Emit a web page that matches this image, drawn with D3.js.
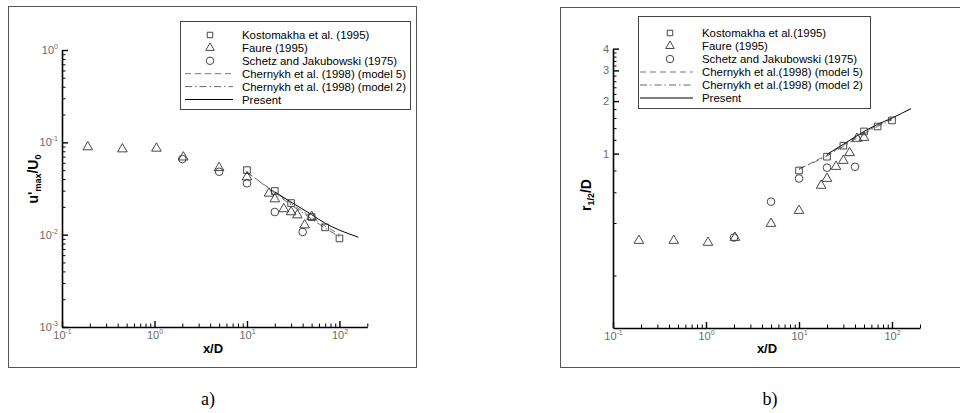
<!DOCTYPE html>
<html>
<head>
<meta charset="utf-8">
<script src="https://cdn.jsdelivr.net/npm/d3@7/dist/d3.min.js"></script>
<style>
  html, body { margin: 0; padding: 0; background: #fff; }
  svg { display: block; }
  text { font-family: "Liberation Sans", Arial, sans-serif; }
</style>
</head>
<body>
<svg id="fig" width="960" height="413"></svg>
<script>
// ---------- panel a) : maximum fluctuation u'max/U0 vs x/D ----------
const aKostoX = [10, 20, 30, 50, 70, 100];
const aKostoY = [0.050, 0.0297, 0.022, 0.0155, 0.0120, 0.0091];
const aFaureX = [0.19, 0.45, 1.05, 2.05, 5, 10, 17.3, 20, 25, 30, 35, 42, 50];
const aFaureY = [0.089, 0.0845, 0.086, 0.069, 0.053, 0.042, 0.028, 0.0243, 0.019, 0.0176, 0.0163, 0.0127, 0.0157];
const aSchetzX = [2, 5, 10, 20, 40];
const aSchetzY = [0.066, 0.048, 0.036, 0.0176, 0.0107];
const aModel5X = [10, 15, 20, 30, 50, 70, 100];
const aModel5Y = [0.047, 0.0355, 0.0290, 0.0218, 0.0154, 0.0124, 0.0101];
const aModel2X = [10, 15, 20, 30, 50, 70, 100];
const aModel2Y = [0.048, 0.0350, 0.0282, 0.0210, 0.0148, 0.0118, 0.0095];
const aPresentX = [20, 30, 50, 70, 100, 160];
const aPresentY = [0.0290, 0.0225, 0.0165, 0.0133, 0.0112, 0.0094];
const aLegend = ["Kostomakha et al. (1995)", "Faure (1995)", "Schetz and Jakubowski (1975)",
                 "Chernykh et al. (1998) (model 5)", "Chernykh et al. (1998) (model 2)", "Present"];

// ---------- panel b) : jet half-width r1/2/D vs x/D ----------
const bKostoX = [10, 20, 30, 50, 70, 100];
const bKostoY = [0.80, 0.96, 1.11, 1.34, 1.43, 1.55];
const bFaureX = [0.19, 0.45, 1.05, 2.05, 5, 10, 17.3, 20, 25, 30, 35, 42, 50];
const bFaureY = [0.317, 0.317, 0.309, 0.330, 0.397, 0.471, 0.656, 0.719, 0.842, 0.912, 1.01, 1.22, 1.235];
const bSchetzX = [2, 5, 10, 20, 40];
const bSchetzY = [0.33, 0.53, 0.72, 0.83, 0.84];
const bModel5X = [10, 15, 20, 30, 50, 70, 100];
const bModel5Y = [0.81, 0.91, 0.98, 1.12, 1.32, 1.45, 1.58];
const bModel2X = [10, 15, 20, 30, 50, 70, 100];
const bModel2Y = [0.82, 0.90, 0.97, 1.10, 1.30, 1.43, 1.56];
const bPresentX = [20, 30, 50, 70, 100, 160];
const bPresentY = [0.99, 1.13, 1.34, 1.47, 1.60, 1.81];
const bLegend = ["Kostomakha et al.(1995)", "Faure (1995)", "Schetz and Jakubowski (1975)",
                 "Chernykh et al.(1998) (model 5)", "Chernykh et al.(1998) (model 2)", "Present"];

// ---------- axis ticks ----------
const xMajor = [0.1, 1, 10, 100];
const aYMajor = [0.001, 0.01, 0.1, 1];
const bYMajor = [1, 2, 3, 4];
const bYMinor = [0.2, 0.4, 0.6, 0.8, 1.2, 1.4, 1.6, 1.8, 2.2, 2.4, 2.6, 2.8, 3.2, 3.4, 3.6, 3.8];

const svg = d3.select("#fig");
const zip = (xs, ys) => xs.map((x, i) => [x, ys[i]]);

function decadeMinors(lo, hi) {
  const out = [];
  for (let e = Math.log10(lo); e < Math.log10(hi); e++) {
    for (let k = 2; k <= 9; k++) out.push(k * Math.pow(10, e));
  }
  return out;
}

function powLabel(sel) {
  sel.each(function(d) {
    const t = d3.select(this);
    t.text("10");
    t.append("tspan").attr("dy", -5).attr("font-size", 7).text(Math.round(Math.log10(d)));
  });
}

const symStyle = { stroke: "#333", fill: "none", "stroke-width": 0.9 };
const symbols = [
  d3.symbol().type(d3.symbolSquare).size(44),
  d3.symbol().type(d3.symbolTriangle).size(40),
  d3.symbol().type(d3.symbolCircle).size(46)
];
const lineStyles = [
  { stroke: "#777", dash: "6,4" },
  { stroke: "#666", dash: "7,3,1.5,3" },
  { stroke: "#000", dash: null }
];

function drawPanel(p) {
  const g = svg.append("g");
  // frame around panel
  g.append("rect").attr("x", p.frame[0]).attr("y", p.frame[1])
    .attr("width", p.frame[2]).attr("height", p.frame[3])
    .attr("fill", "none").attr("stroke", "#555").attr("stroke-width", 1);

  const x = d3.scaleLog().domain([0.1, 200]).range(p.xRange);
  const y = d3.scaleLog().domain(p.yDomain).range(p.yRange);

  // x axis: minor then major ticks, pointing inward
  const xMinor = decadeMinors(0.1, 100).concat([200]);
  g.append("g").attr("transform", `translate(0,${p.yRange[0]})`)
    .call(d3.axisBottom(x).tickValues(xMinor).tickSize(-3.5).tickSizeOuter(0).tickFormat(""))
    .call(s => s.select(".domain").attr("stroke-width", 1.6).attr("stroke", "#000"));
  const xa = g.append("g").attr("transform", `translate(0,${p.yRange[0]})`)
    .call(d3.axisBottom(x).tickValues(xMajor).tickSize(-6).tickSizeOuter(0).tickPadding(4))
    .call(s => s.select(".domain").remove());
  xa.selectAll(".tick line").attr("stroke-width", 1.4);
  xa.selectAll(".tick text").attr("fill", "#6a6a6a").attr("font-size", 11)
    .attr("font-family", "Liberation Sans, Arial, sans-serif").call(powLabel);

  // y axis
  g.append("g").attr("transform", `translate(${p.xRange[0]},0)`)
    .call(d3.axisLeft(y).tickValues(p.yMinor).tickSize(-3.5).tickSizeOuter(0).tickFormat(""))
    .call(s => s.select(".domain").attr("stroke-width", 1.6).attr("stroke", "#000"));
  const ya = g.append("g").attr("transform", `translate(${p.xRange[0]},0)`)
    .call(d3.axisLeft(y).tickValues(p.yMajor).tickSize(-6).tickSizeOuter(0).tickPadding(4))
    .call(s => s.select(".domain").remove());
  ya.selectAll(".tick line").attr("stroke-width", 1.4);
  ya.selectAll(".tick text").attr("fill", "#6a6a6a").attr("font-size", 11)
    .attr("font-family", "Liberation Sans, Arial, sans-serif");
  if (p.yPow) ya.selectAll(".tick text").call(powLabel);
  else ya.selectAll(".tick text").text(d => d3.format("d")(d));

  // model curves
  const line = d3.line().x(d => x(d[0])).y(d => y(d[1])).curve(d3.curveMonotoneX);
  p.curves.forEach((c, i) => {
    const ls = lineStyles[i];
    g.append("path").datum(c).attr("d", line)
      .attr("fill", "none").attr("stroke", ls.stroke).attr("stroke-width", 1)
      .attr("stroke-dasharray", ls.dash);
  });

  // experimental points
  p.points.forEach((pts, i) => {
    g.append("g").selectAll("path").data(pts).join("path")
      .attr("d", symbols[i])
      .attr("transform", d => `translate(${x(d[0])},${y(d[1])})`)
      .attr("stroke", symStyle.stroke).attr("fill", symStyle.fill)
      .attr("stroke-width", symStyle["stroke-width"]);
  });

  // axis titles
  g.append("text").attr("x", p.xTitle[0]).attr("y", p.xTitle[1])
    .attr("text-anchor", "middle").attr("font-size", 13).attr("font-weight", "bold").text("x/D");
  const yt = g.append("text")
    .attr("transform", `translate(${p.yTitle[0]},${p.yTitle[1]}) rotate(-90)`)
    .attr("text-anchor", "middle").attr("font-size", 14).attr("font-weight", "bold");
  p.yTitleParts.forEach(part => {
    yt.append("tspan").attr("font-size", part.sub ? 9 : 14)
      .attr("dy", part.dy || 0).text(part.t);
  });

  // legend
  const L = p.legend;
  const lg = g.append("g");
  lg.append("rect").attr("x", L.x).attr("y", L.y).attr("width", L.w).attr("height", L.h)
    .attr("fill", "#fff").attr("stroke", "#444").attr("stroke-width", 1);
  L.labels.forEach((lab, i) => {
    const ry = L.y + L.first + i * L.step;
    if (i < 3) {
      lg.append("path").attr("d", d3.symbol().type([d3.symbolSquare, d3.symbolTriangle, d3.symbolCircle][i]).size([30, 32, 44][i])())
        .attr("transform", `translate(${L.symX},${ry})`)
        .attr("stroke", "#333").attr("fill", "none").attr("stroke-width", 0.9);
    } else {
      const ls = lineStyles[i - 3];
      lg.append("line").attr("x1", L.lineX[0]).attr("x2", L.lineX[1]).attr("y1", ry).attr("y2", ry)
        .attr("stroke", ls.stroke).attr("stroke-width", 1).attr("stroke-dasharray", ls.dash);
    }
    lg.append("text").attr("x", L.textX).attr("y", ry + 4).attr("font-size", 11.4)
      .attr("fill", "#000").text(lab);
  });

  // caption
  svg.append("text").attr("x", p.caption[0]).attr("y", p.caption[1])
    .attr("text-anchor", "middle").attr("font-size", 18)
    .style("font-family", "'Liberation Serif', 'Times New Roman', serif").text(p.caption[2]);
}

drawPanel({
  frame: [8.5, 6.5, 408, 361],
  xRange: [62, 367.3],
  yDomain: [0.001, 1], yRange: [327, 50],
  yMajor: aYMajor, yMinor: decadeMinors(0.001, 1), yPow: true,
  curves: [zip(aModel5X, aModel5Y), zip(aModel2X, aModel2Y), zip(aPresentX, aPresentY)],
  points: [zip(aKostoX, aKostoY), zip(aFaureX, aFaureY), zip(aSchetzX, aSchetzY)],
  xTitle: [213, 353],
  yTitle: [38, 179],
  yTitleParts: [{ t: "u'" }, { t: "max", sub: true, dy: 3 }, { t: "/U", dy: -3 }, { t: "0", sub: true, dy: 3 }],
  legend: { x: 180.5, y: 21.5, w: 230, h: 88, first: 13.5, step: 12.9,
            symX: 210, lineX: [185, 233], textX: 242, labels: aLegend },
  caption: [208, 405, "a)"]
});

drawPanel({
  frame: [560.5, 7.5, 420, 360],
  xRange: [613, 920],
  yDomain: [0.1, 4], yRange: [328, 328 - Math.log10(40) * 174.4],
  yMajor: bYMajor, yMinor: bYMinor, yPow: false,
  curves: [zip(bModel5X, bModel5Y), zip(bModel2X, bModel2Y), zip(bPresentX, bPresentY)],
  points: [zip(bKostoX, bKostoY), zip(bFaureX, bFaureY), zip(bSchetzX, bSchetzY)],
  xTitle: [767, 353],
  yTitle: [591, 195],
  yTitleParts: [{ t: "r" }, { t: "1/2", sub: true, dy: 3 }, { t: "/D", dy: -3 }],
  legend: { x: 638.5, y: 16.5, w: 232, h: 92, first: 16.5, step: 13,
            symX: 670, lineX: [640, 693], textX: 702, labels: bLegend },
  caption: [770, 405, "b)"]
});
</script>
</body>
</html>
